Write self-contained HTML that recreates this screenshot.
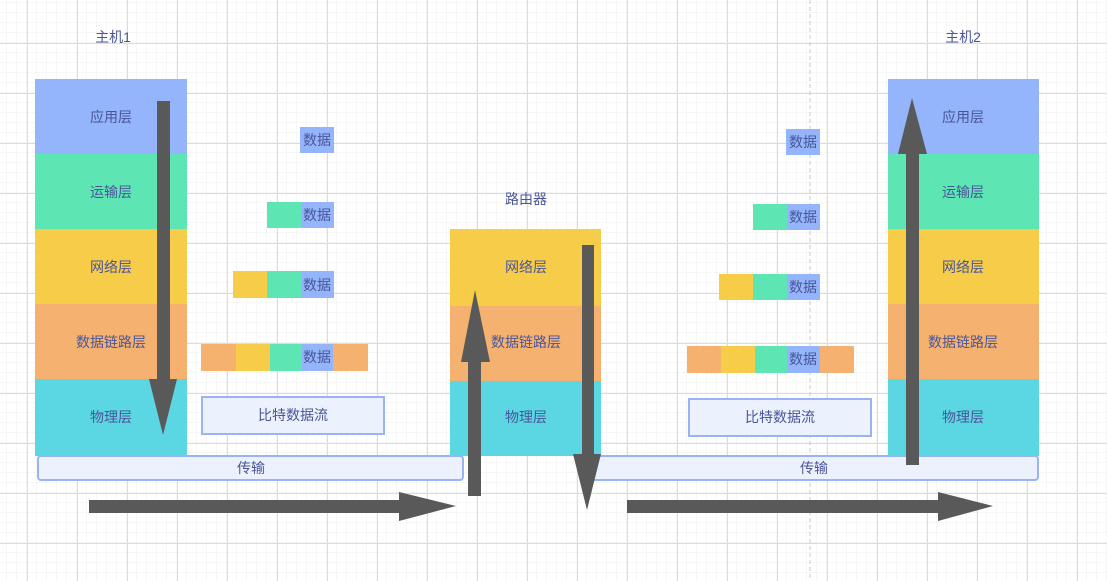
<!DOCTYPE html>
<html><head><meta charset="utf-8"><style>
html,body{margin:0;padding:0;width:1107px;height:581px;overflow:hidden;background:#fff}
svg{display:block}
text{font-family:"Liberation Sans","Noto Sans CJK SC",sans-serif;font-size:14px;fill:#4a5699;text-anchor:middle;dominant-baseline:central}
</style></head><body>
<svg width="1107" height="581" viewBox="0 0 1107 581" xmlns="http://www.w3.org/2000/svg">
<defs>
<pattern id="minor" width="10" height="10" patternUnits="userSpaceOnUse" x="7" y="3"><path d="M10 0V10M0 10H10" stroke="#efefef" stroke-width="1" fill="none"/></pattern>
<pattern id="major" width="50" height="50" patternUnits="userSpaceOnUse" x="27" y="43"><path d="M0.5 0V50M0 0.5H50" stroke="#dcdcdc" stroke-width="1" fill="none"/></pattern>
</defs>
<rect width="1107" height="581" fill="url(#minor)"/>
<rect width="1107" height="581" fill="url(#major)"/>
<line x1="810" y1="0" x2="810" y2="581" stroke="#c8c8c8" stroke-dasharray="4,3"/>

<text x="113" y="37">主机1</text>
<text x="963" y="37">主机2</text>
<text x="526" y="199">路由器</text>

<!-- host1 -->
<rect x="35" y="79" width="152" height="75" fill="#94b4fb"/>
<rect x="35" y="154" width="152" height="75" fill="#5ee5b4"/>
<rect x="35" y="229" width="152" height="75" fill="#f7cc48"/>
<rect x="35" y="304" width="152" height="75" fill="#f5b170"/>
<rect x="35" y="379" width="152" height="77" fill="#5bd7e3"/>
<text x="111" y="117">应用层</text><text x="111" y="192">运输层</text><text x="111" y="267">网络层</text><text x="111" y="342">数据链路层</text><text x="111" y="417">物理层</text>

<!-- router -->
<rect x="450" y="229" width="151" height="77" fill="#f7cc48"/>
<rect x="450" y="306" width="151" height="75" fill="#f5b170"/>
<rect x="450" y="381" width="151" height="75" fill="#5bd7e3"/>
<text x="526" y="267">网络层</text><text x="526" y="342">数据链路层</text><text x="526" y="417">物理层</text>

<!-- host2 -->
<rect x="888" y="79" width="151" height="75" fill="#94b4fb"/>
<rect x="888" y="154" width="151" height="75" fill="#5ee5b4"/>
<rect x="888" y="229" width="151" height="75" fill="#f7cc48"/>
<rect x="888" y="304" width="151" height="75" fill="#f5b170"/>
<rect x="888" y="379" width="151" height="77" fill="#5bd7e3"/>
<text x="963" y="117">应用层</text><text x="963" y="192">运输层</text><text x="963" y="267">网络层</text><text x="963" y="342">数据链路层</text><text x="963" y="417">物理层</text>

<!-- transfer boxes -->
<rect x="38" y="456" width="425" height="24" rx="3" fill="#ebf1fd" stroke="#99b3f5" stroke-width="2"/>
<text x="251" y="468">传输</text>
<rect x="590" y="456" width="448" height="24" rx="3" fill="#ebf1fd" stroke="#99b3f5" stroke-width="2"/>
<text x="814" y="468">传输</text>

<!-- bit streams -->
<rect x="202" y="397" width="182" height="37" fill="#ebf1fd" stroke="#99b3f5" stroke-width="2"/>
<text x="293" y="415">比特数据流</text>
<rect x="689" y="399" width="182" height="37" fill="#ebf1fd" stroke="#99b3f5" stroke-width="2"/>
<text x="780" y="417">比特数据流</text>

<!-- data col1 -->
<rect x="300" y="127" width="34" height="26" fill="#94b4fb"/><text x="317" y="140">数据</text>
<rect x="267" y="202" width="34" height="26" fill="#5ee5b4"/><rect x="301" y="202" width="33" height="26" fill="#94b4fb"/><text x="317" y="215">数据</text>
<rect x="233" y="271" width="34" height="27" fill="#f7cc48"/><rect x="267" y="271" width="34" height="27" fill="#5ee5b4"/><rect x="301" y="271" width="33" height="27" fill="#94b4fb"/><text x="317" y="285">数据</text>
<rect x="201" y="344" width="35" height="27" fill="#f5b170"/><rect x="236" y="344" width="34" height="27" fill="#f7cc48"/><rect x="270" y="344" width="32" height="27" fill="#5ee5b4"/><rect x="302" y="344" width="31" height="27" fill="#94b4fb"/><rect x="333" y="344" width="35" height="27" fill="#f5b170"/><text x="317" y="357">数据</text>

<!-- data col2 -->
<rect x="786" y="129" width="34" height="26" fill="#94b4fb"/><text x="803" y="142">数据</text>
<rect x="753" y="204" width="34" height="26" fill="#5ee5b4"/><rect x="787" y="204" width="33" height="26" fill="#94b4fb"/><text x="803" y="217">数据</text>
<rect x="719" y="274" width="34" height="26" fill="#f7cc48"/><rect x="753" y="274" width="34" height="26" fill="#5ee5b4"/><rect x="787" y="274" width="33" height="26" fill="#94b4fb"/><text x="803" y="287">数据</text>
<rect x="687" y="346" width="34" height="27" fill="#f5b170"/><rect x="721" y="346" width="34" height="27" fill="#f7cc48"/><rect x="755" y="346" width="32" height="27" fill="#5ee5b4"/><rect x="787" y="346" width="33" height="27" fill="#94b4fb"/><rect x="820" y="346" width="34" height="27" fill="#f5b170"/><text x="803" y="359">数据</text>

<!-- arrows -->
<g fill="#595959">
<rect x="157" y="101" width="13" height="280"/><polygon points="149,379 177,379 163,435"/>
<rect x="468" y="360" width="13" height="136"/><polygon points="461,362 490,362 475,290"/>
<rect x="582" y="245" width="12" height="211"/><polygon points="573,454 601,454 587,510"/>
<rect x="906" y="150" width="13" height="315"/><polygon points="898,154 927,154 912,98"/>
<rect x="89" y="500" width="312" height="13"/><polygon points="399,492 399,521 456,506"/>
<rect x="627" y="500" width="315" height="13"/><polygon points="938,492 938,521 993,506"/>
</g>
</svg>
</body></html>
